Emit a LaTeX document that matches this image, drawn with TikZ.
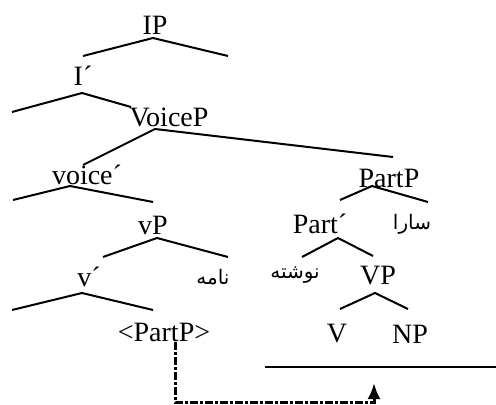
\documentclass[tikz,border=0pt]{standalone}
\usepackage{fontspec}
\setmainfont{Liberation Serif}
\newfontfamily\farsifont[Script=Arabic]{DejaVu Sans}
\TeXXeTstate=1
\usetikzlibrary{arrows, arrows.meta, positioning}

\begin{document}
\begin{tikzpicture}[x=0.5pt, y=-0.5pt,
		lbl/.style={inner sep=0pt, font=\fontsize{14}{16}\selectfont},
		fa/.style={inner sep=0pt, font=\farsifont\fontsize{10}{12}\selectfont},
		branch/.style={line width=1pt},
		movement/.style={->, >={Latex[length=8pt,width=6.5pt]}, line width=1.5pt, dash pattern=on 4pt off 1pt on 1.5pt off 1pt}]
		\useasboundingbox (0,0) rectangle (496,405);

		\node(ip)  [lbl] at (155,25)  {IP};
		\node(ibar)  [lbl] at (83,76)  {I´};
		\node(voicep)  [lbl] at (169,117)  {VoiceP};
		\node(voicebar)  [lbl] at (87,175)  {voice´};
		\node(vp)  [lbl] at (153,225)  {vP};
		\node(vbar)  [lbl] at (89,277)  {v´};
		\node(name)  [fa] at (213,277)  {\beginR نامه\endR};
		\node(trace)  [lbl] at (164,332)  {<PartP>};

		\node(partp)  [lbl] at (389,178)  {PartP};
		\node(partbar)  [lbl] at (320,224)  {Part´};
		\node(sara)  [fa] at (412,224)  {\beginR سارا\endR};
		\node(neveshte)  [fa] at (295,275)  {\beginR نوشته\endR};
		\node(vpp)  [lbl] at (378,276)  {VP};
		\node(v)  [lbl] at (337,334)  {V};
		\node(np)  [lbl] at (410,334)  {NP};

		% branch ends
		\coordinate(ip-a) at (153,38);  \coordinate(ip-l) at (83,56);  \coordinate(ip-r) at (228,56);
		\coordinate(ibar-a) at (82,93);  \coordinate(ibar-l) at (12,112);  \coordinate(ibar-r) at (131,107);
		\coordinate(voicep-a) at (155,129);  \coordinate(voicep-l) at (83,165);  \coordinate(voicep-r) at (393,157);
		\coordinate(voicebar-a) at (70,186);  \coordinate(voicebar-l) at (13,200);  \coordinate(voicebar-r) at (153,202);
		\coordinate(vp-a) at (157,238);  \coordinate(vp-l) at (103,257);  \coordinate(vp-r) at (228,257);
		\coordinate(vbar-a) at (82,293);  \coordinate(vbar-l) at (12,310);  \coordinate(vbar-r) at (153,310);
		\coordinate(partp-a) at (372,186);  \coordinate(partp-l) at (340,200);  \coordinate(partp-r) at (428,202);
		\coordinate(partbar-a) at (338,238);  \coordinate(partbar-l) at (302,257);  \coordinate(partbar-r) at (373,256);
		\coordinate(vpp-a) at (375,293);  \coordinate(vpp-l) at (340,309);  \coordinate(vpp-r) at (408,309);
		\coordinate(rule-l) at (265,367);  \coordinate(rule-r) at (496,367);
		\coordinate(land) at (374,402);  \coordinate(goal) at (374,383);

		\draw[branch] (ip-l) -- (ip-a) -- (ip-r);
		\draw[branch] (ibar-l) -- (ibar-a) -- (ibar-r);
		\draw[branch] (voicep-l) -- (voicep-a) -- (voicep-r);
		\draw[branch] (voicebar-l) -- (voicebar-a) -- (voicebar-r);
		\draw[branch] (vp-l) -- (vp-a) -- (vp-r);
		\draw[branch] (vbar-l) -- (vbar-a) -- (vbar-r);
		\draw[branch] (partp-l) -- (partp-a) -- (partp-r);
		\draw[branch] (partbar-l) -- (partbar-a) -- (partbar-r);
		\draw[branch] (vpp-l) -- (vpp-a) -- (vpp-r);
		\draw[branch] (rule-l) -- (rule-r);

		\draw[movement] ([xshift=5.5pt]trace.south) |- (land) -- (goal);
\end{tikzpicture}
\end{document}
